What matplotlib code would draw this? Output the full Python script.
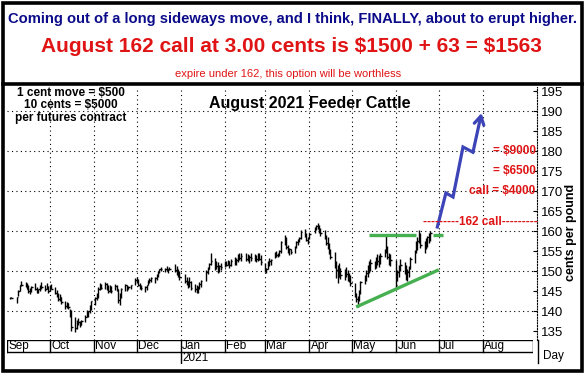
import matplotlib
matplotlib.use('Agg')
import matplotlib.pyplot as plt
import matplotlib.dates as mdates
from matplotlib.lines import Line2D
import numpy as np
import pandas as pd
from datetime import datetime

plt.rcParams['font.family'] = ['Liberation Sans', 'DejaVu Sans']

# ---------------- data ----------------
title1 = "Coming out of a long sideways move, and I think, FINALLY, about to erupt higher."
title2 = "August 162 call at 3.00 cents is $1500 + 63 = $1563"
title3 = "expire under 162, this option will be worthless"
chart_title = "August 2021 Feeder Cattle"
note_lines = ["1 cent move = $500", "10 cents = $5000", "per futures contract"]

start_date = "2020-09-03"
end_date = "2021-06-25"
holidays = ["2020-09-07", "2020-11-26", "2020-12-25", "2021-01-01", "2021-01-18",
            "2021-02-15", "2021-04-02", "2021-05-31"]

sep_h = [143.4, 143.5, 143.6, 145.2, 146.6, 147.5, 147.3, 147.0, 146.4, 145.8, 146.3, 146.9, 146.0, 145.6, 146.4, 147.2, 146.6, 147.0, 146.2]
sep_l = [143.1, 143.2, 142.0, 143.8, 145.0, 146.2, 146.1, 145.4, 144.6, 144.2, 144.8, 145.2, 144.4, 144.5, 145.1, 145.6, 145.0, 145.4, 144.6]
sep_c = [143.3, 143.3, 143.4, 144.9, 146.4, 146.6, 146.5, 145.6, 144.9, 145.6, 146.1, 145.4, 144.8, 145.4, 146.2, 146.0, 145.5, 146.1, 144.9]

oct_h = [146.5, 146.8, 146.0, 145.2, 144.6, 144.2, 143.6, 142.6, 142.3, 142.0, 140.6, 140.2, 138.5, 137.8, 138.2, 137.6, 137.8, 139.0, 140.2, 140.0, 141.4, 142.6]
oct_l = [145.0, 145.4, 144.2, 143.6, 142.6, 142.4, 141.8, 140.6, 140.8, 140.4, 138.6, 135.0, 134.8, 135.4, 136.4, 136.0, 136.4, 137.2, 138.5, 138.4, 139.6, 140.2]
oct_c = [145.8, 145.6, 144.6, 143.9, 143.0, 143.6, 142.2, 141.2, 141.9, 141.0, 139.2, 136.0, 135.8, 137.2, 137.2, 136.6, 137.6, 138.6, 139.6, 139.9, 141.2, 142.4]

nov_h = [143.6, 144.4, 146.0, 147.0, 146.8, 147.3, 147.0, 146.4, 146.6, 146.2, 146.8, 146.5, 145.4, 144.6, 145.8, 146.8, 146.4, 146.2, 146.6, 148.2]
nov_l = [141.4, 142.8, 143.2, 145.2, 145.4, 145.6, 145.2, 144.6, 144.8, 144.6, 145.2, 145.0, 142.0, 141.6, 143.2, 145.0, 145.0, 145.4, 145.6, 146.6]
nov_c = [143.2, 144.0, 145.6, 146.6, 145.8, 146.8, 145.6, 145.0, 146.1, 145.0, 146.2, 145.4, 142.8, 143.8, 145.4, 146.4, 145.6, 145.9, 146.4, 147.8]

dec_h = [148.5, 148.0, 147.0, 146.6, 146.2, 146.6, 147.8, 148.2, 148.6, 148.4, 149.2, 150.0, 150.6, 151.0, 150.8, 151.2, 150.6, 150.9, 151.7, 151.2, 150.4, 150.0]
dec_l = [147.0, 146.2, 145.6, 145.2, 144.8, 145.2, 146.4, 147.0, 147.2, 147.0, 147.8, 148.6, 149.6, 150.0, 149.8, 149.9, 149.6, 150.2, 149.8, 149.0, 148.4, 147.8]
dec_c = [147.4, 146.4, 146.0, 145.8, 145.9, 146.4, 147.5, 147.8, 148.2, 148.2, 149.0, 149.8, 150.4, 150.4, 150.6, 150.4, 150.4, 150.6, 150.2, 149.4, 148.8, 148.4]

jan_h = [149.2, 148.6, 147.6, 148.4, 147.6, 146.8, 146.4, 146.2, 147.2, 147.8, 150.2, 151.0, 152.0, 154.6, 153.2, 152.6, 152.2, 151.6, 152.0]
jan_l = [147.0, 146.4, 145.8, 146.0, 145.2, 144.8, 144.4, 144.6, 145.4, 146.0, 147.4, 149.2, 150.4, 151.4, 150.2, 150.4, 149.6, 149.8, 150.2]
jan_c = [147.4, 147.6, 146.4, 147.2, 145.8, 145.4, 145.6, 145.8, 146.8, 147.4, 149.8, 150.6, 151.8, 152.4, 151.0, 151.2, 150.2, 151.2, 151.0]

feb_h = [152.4, 152.6, 152.8, 152.4, 153.0, 153.6, 153.2, 154.2, 154.6, 154.4, 154.6, 154.2, 154.0, 154.6, 154.2, 154.0, 154.4, 154.6, 154.0]
feb_l = [151.0, 151.2, 151.4, 150.8, 151.2, 151.6, 151.4, 152.2, 152.8, 152.4, 152.6, 152.4, 152.0, 152.6, 152.4, 152.2, 152.6, 152.8, 151.6]
feb_c = [152.0, 151.6, 152.4, 151.4, 152.6, 152.8, 152.8, 153.8, 153.2, 153.8, 153.0, 153.4, 153.4, 153.2, 153.6, 153.0, 153.8, 153.0, 152.2]

mar_h = [152.0, 150.8, 152.6, 153.2, 153.0, 154.8, 155.0, 154.6, 155.2, 157.6, 159.0, 158.6, 156.4, 155.8, 155.4, 156.2, 157.6, 158.0, 158.6, 160.2, 160.6, 159.4, 158.6]
mar_l = [149.8, 149.6, 150.6, 151.2, 151.6, 153.2, 153.6, 153.4, 153.8, 154.6, 156.6, 155.6, 154.4, 154.0, 154.2, 154.6, 155.8, 156.4, 157.2, 158.0, 158.6, 157.4, 156.8]
mar_c = [150.4, 150.6, 152.2, 152.4, 152.8, 154.4, 154.0, 154.2, 155.0, 157.2, 157.4, 156.0, 155.0, 155.4, 154.8, 156.0, 157.2, 157.8, 158.2, 159.8, 158.8, 157.8, 158.2]

apr_h = [159.6, 161.0, 161.6, 162.0, 161.4, 160.8, 160.2, 159.0, 158.4, 157.0, 155.6, 154.8, 152.6, 151.4, 152.0, 150.8, 150.6, 151.0, 150.2, 149.6, 149.0]
apr_l = [158.0, 159.6, 160.2, 160.4, 159.6, 158.8, 158.0, 156.4, 155.6, 154.2, 153.0, 150.8, 148.2, 147.0, 148.4, 148.0, 147.8, 148.4, 147.6, 147.2, 146.2]
apr_c = [159.2, 160.8, 161.2, 160.8, 160.0, 159.4, 158.6, 157.0, 156.2, 154.8, 153.4, 152.0, 150.2, 148.6, 150.6, 149.0, 149.6, 149.2, 148.4, 148.2, 147.0]

may_h = [147.0, 144.6, 143.8, 145.2, 147.6, 149.0, 150.2, 151.6, 152.4, 153.0, 152.6, 153.4, 154.2, 154.0, 154.4, 155.6, 158.8, 156.2, 154.6, 154.2]
may_l = [143.6, 142.2, 141.0, 142.4, 144.2, 146.8, 147.4, 148.4, 149.6, 150.0, 150.4, 150.8, 151.4, 151.0, 151.8, 153.4, 154.6, 153.0, 151.6, 151.2]
may_c = [144.2, 143.0, 143.2, 144.8, 147.2, 148.4, 149.6, 150.8, 151.4, 152.0, 151.6, 152.8, 152.6, 153.4, 153.8, 155.2, 155.6, 153.4, 152.2, 152.8]

jun_h = [152.8, 150.2, 151.6, 153.0, 152.2, 151.4, 150.4, 151.2, 153.4, 155.2, 157.4, 158.6, 160.2, 159.4, 157.6, 158.2, 158.8, 159.6, 160.0]
jun_l = [145.6, 147.4, 148.6, 150.0, 149.2, 147.8, 147.4, 148.4, 150.6, 152.0, 154.4, 155.2, 157.0, 155.8, 154.4, 155.4, 156.0, 157.0, 157.4]
jun_c = [146.4, 149.8, 151.0, 151.4, 149.6, 148.2, 149.8, 150.8, 153.0, 154.8, 157.0, 157.4, 159.0, 156.4, 156.0, 157.6, 158.4, 158.8, 159.6]

months = ["Sep", "Oct", "Nov", "Dec", "Jan", "Feb", "Mar", "Apr", "May", "Jun", "Jul", "Aug"]
month_starts = ["2020-09-01", "2020-10-01", "2020-11-01", "2020-12-01", "2021-01-01", "2021-02-01",
                "2021-03-01", "2021-04-01", "2021-05-01", "2021-06-01", "2021-07-01", "2021-08-01"]
y_ticks = [135, 140, 145, 150, 155, 160, 165, 170, 175, 180, 185, 190, 195]

# trend lines (date, price)
support_dates = ["2021-05-04", "2021-07-01"]
support_vals = [141.0, 150.3]
resist_dates = ["2021-05-13", "2021-06-15"]
resist_vals = [159.0, 159.0]
resist2_dates = ["2021-06-27", "2021-07-04"]
resist2_vals = [159.0, 159.0]

# projected path (blue arrow)
proj_dates = ["2021-06-30", "2021-07-06", "2021-07-11", "2021-07-18", "2021-07-25", "2021-07-31"]
proj_vals = [161.0, 169.5, 168.5, 181.0, 179.7, 189.5]

call_labels = ["= $9000", "= $6500", "call = $4000"]
call_levels = [180, 175, 170]
strike_label = "---------162 call---------"
strike = 162.2

# ---------------- figure ----------------
W, H = 586, 376
fig = plt.figure(figsize=(W / 100, H / 100), dpi=100)
fig.patch.set_facecolor('white')

def fx(x):
    return x / W

def fy(y):
    return 1 - y / H

RED = '#e01414'
NAVY = '#0c0c8a'

# plot axes
L, R, T, B = 7, 537, 87, 340
ax = fig.add_axes([fx(L), fy(B), fx(R) - fx(L), fy(T) - fy(B)])
x0 = mdates.date2num(datetime(2020, 9, 1))
px_per_day = 1.425
x1 = x0 + (R - L) / px_per_day
ax.set_xlim(x0, x1)
ax.set_ylim(132.75, 196)
ax.set_facecolor('white')

def xpix(p):
    return x0 + (p - L) / px_per_day

# bars
days = pd.bdate_range(start_date, end_date)
days = days[~days.isin(pd.to_datetime(holidays))]
highs = sep_h + oct_h + nov_h + dec_h + jan_h + feb_h + mar_h + apr_h + may_h + jun_h
lows = sep_l + oct_l + nov_l + dec_l + jan_l + feb_l + mar_l + apr_l + may_l + jun_l
closes = sep_c + oct_c + nov_c + dec_c + jan_c + feb_c + mar_c + apr_c + may_c + jun_c
n = min(len(days), len(highs))
xd = mdates.date2num(days[:n].to_pydatetime())
ax.vlines(xd, lows[:n], highs[:n], color='black', lw=1.0, zorder=3)
ax.hlines(closes[:n], xd, xd + 1.0, color='black', lw=1.0, zorder=3)

# grid
dot = (0, (1, 3))
ms_num = [mdates.date2num(pd.Timestamp(d).to_pydatetime()) for d in month_starts]
for m in ms_num[1:]:
    ax.axvline(m, color='black', lw=0.8, ls=dot, zorder=1)
for v in [140, 150, 160, 170, 180, 190]:
    ax.axhline(v, color='black', lw=0.8, ls=dot, zorder=1)

for s in ['left', 'top', 'bottom']:
    ax.spines[s].set_visible(False)
ax.spines['right'].set_linestyle((0, (1, 1.5)))
ax.spines['right'].set_linewidth(0.8)
ax.set_xticks([])
ax.yaxis.tick_right()
ax.set_yticks(y_ticks)
ax.set_yticklabels([str(t) for t in y_ticks])
ax.tick_params(axis='y', direction='in', length=3, width=0.8, pad=3, labelsize=9.5)

# trend lines
GREEN = '#46b050'
def dn(lst):
    return [mdates.date2num(pd.Timestamp(d).to_pydatetime()) for d in lst]
ax.plot(dn(support_dates), support_vals, color=GREEN, lw=2.4, solid_capstyle='butt', zorder=4)
ax.plot(dn(resist_dates), resist_vals, color=GREEN, lw=2.4, solid_capstyle='butt', zorder=4)
ax.plot(dn(resist2_dates), resist2_vals, color=GREEN, lw=2.4, solid_capstyle='butt', zorder=4)

# projection arrow
BLUE = '#3c44b8'
pdn = dn(proj_dates)
ax.plot(pdn[:-1], proj_vals[:-1], color=BLUE, lw=2.3, solid_joinstyle='miter', zorder=5)
ax.annotate('', xy=(pdn[-1], proj_vals[-1]), xytext=(pdn[-2], proj_vals[-2]),
            arrowprops=dict(arrowstyle='->,head_length=0.6,head_width=0.35', color=BLUE, lw=2.3,
                            shrinkA=0, shrinkB=0), zorder=5)

# red annotations
for lab, lev in zip(call_labels, call_levels):
    ax.text(x1 - 1.0, lev, lab, color=RED, fontsize=8.5, fontweight='bold', ha='right', va='center',
            zorder=6, parse_math=False)
ax.text(xpix(480), strike, strike_label, color=RED, fontsize=8.5, fontweight='bold',
        ha='center', va='center', zorder=6, parse_math=False)

# chart title and note
ax.text(xpix(310), 191.8, chart_title, fontsize=11.5, fontweight='bold',
        ha='center', va='center', zorder=6)
for i, line in enumerate(note_lines):
    fig.text(fx(71), fy(93 + i * 12.3), line, fontsize=8.5, fontweight='bold', ha='center', va='center',
             parse_math=False)

# y label
fig.text(fx(571), fy(232), "cents per pound", rotation=90, fontsize=9, fontweight='bold',
         ha='center', va='center')

# month axis
ax2 = fig.add_axes([fx(L), fy(364), fx(533) - fx(L), fy(340) - fy(364)])
ax2.set_xlim(x0, x0 + (533 - L) / px_per_day)
ax2.set_ylim(0, 2)
ax2.axis('off')
ax2.axhline(2, color='black', lw=1.0)
ax2.axhline(1, color='black', lw=1.0)
ax2.plot([x0 + (533 - L) / px_per_day] * 2, [1, 2], color='black', lw=1.0)
for m, name in zip(ms_num, months):
    ax2.plot([m, m], [1, 2], color='black', lw=1.0)
    ax2.text(m + 1.0, 1.5, name, fontsize=8.5, ha='left', va='center')
jan = ms_num[4]
ax2.plot([jan, jan], [0, 1], color='black', lw=1.0)
ax2.text(jan + 1.0, 0.5, "2021", fontsize=8.5, ha='left', va='center')

fig.text(fx(543), fy(356), "Day", fontsize=8.5, ha='left', va='center')
fig.add_artist(Line2D([fx(538), fx(538)], [fy(340), fy(363)], color='black', lw=1.0))

# titles
fig.text(fx(293), fy(19), title1, color=NAVY, fontsize=10.6, fontweight='bold', ha='center', va='center',
         parse_math=False)
fig.text(fx(291), fy(47), title2, color=RED, fontsize=15, fontweight='bold', ha='center', va='center',
         parse_math=False)
fig.text(fx(288), fy(74), title3, color=RED, fontsize=8, ha='center', va='center', parse_math=False)

# frames
fig.add_artist(Line2D([fx(3), fx(582)], [fy(84), fy(84)], color='black', lw=2.6))
fig.add_artist(plt.Rectangle((fx(3), fy(371)), fx(579), fy(3) - fy(371), fill=False,
                             edgecolor='black', lw=2.6, transform=fig.transFigure))

fig.savefig('out.png', dpi=100)
